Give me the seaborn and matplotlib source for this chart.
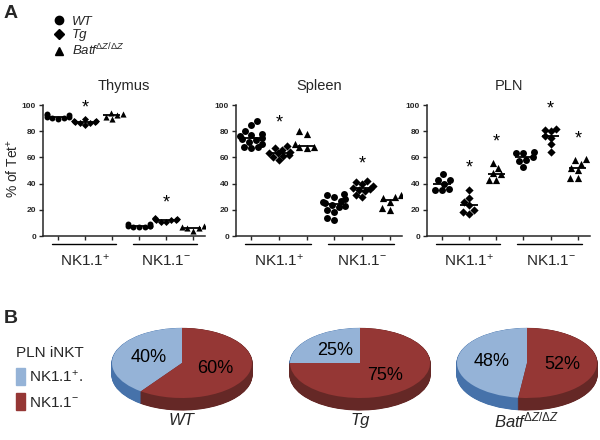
import warnings
warnings.filterwarnings("ignore")
import numpy as np
import pandas as pd
import matplotlib
matplotlib.use("Agg")
import matplotlib.pyplot as plt
import matplotlib.transforms as mtransforms
from matplotlib.lines import Line2D
from matplotlib.patches import Patch
import seaborn as sns

sns.set_style("ticks")
plt.rcParams["font.family"] = ["Liberation Sans", "DejaVu Sans"]
plt.rcParams["mathtext.fontset"] = "custom"
plt.rcParams["mathtext.rm"] = "Liberation Sans"
plt.rcParams["mathtext.it"] = "Liberation Sans:italic"
plt.rcParams["mathtext.bf"] = "Liberation Sans:bold"

# ---------------- data ----------------
genotypes = ["WT", "Tg", "Batf"]
categories = ["WT+", "Tg+", "Batf+", "WT-", "Tg-", "Batf-"]
group_labels = ["NK1.1$^{+}$", "NK1.1$^{-}$"]
tissues = ["Thymus", "Spleen", "PLN"]

thy_wt_pos = [90, 91, 92, 91, 90, 92, 93, 89]
thy_tg_pos = [85, 86, 87, 88, 87, 89, 86, 88]
thy_ko_pos = [89, 91, 93, 94, 92]
thy_wt_neg = [7, 8, 9, 8, 7, 9, 8, 7]
thy_tg_neg = [11, 12, 13, 12, 11, 13, 14, 12]
thy_ko_neg = [4, 6, 7, 8, 6]

spl_wt_pos = [88, 85, 80, 78, 77, 76, 75, 74, 73, 72, 70, 68, 67, 68]
spl_tg_pos = [69, 67, 66, 64, 63, 62, 61, 60, 58, 63]
spl_ko_pos = [80, 78, 70, 68, 68, 67]
spl_wt_neg = [32, 31, 30, 28, 27, 25, 24, 22, 20, 18, 14, 12, 26, 23]
spl_tg_neg = [42, 41, 40, 38, 37, 36, 35, 34, 31, 30]
spl_ko_neg = [31, 30, 29, 26, 21, 20]

pln_wt_pos = [47, 43, 43, 40, 36, 35, 35]
pln_tg_pos = [35, 29, 26, 24, 20, 18, 17]
pln_ko_pos = [56, 52, 48, 47, 43, 43]
pln_wt_neg = [64, 63, 63, 60, 58, 57, 53]
pln_tg_neg = [82, 81, 80, 76, 75, 70, 64]
pln_ko_neg = [59, 58, 55, 52, 50, 44, 44]

panel_values = {
    "Thymus": [thy_wt_pos, thy_tg_pos, thy_ko_pos, thy_wt_neg, thy_tg_neg, thy_ko_neg],
    "Spleen": [spl_wt_pos, spl_tg_pos, spl_ko_pos, spl_wt_neg, spl_tg_neg, spl_ko_neg],
    "PLN": [pln_wt_pos, pln_tg_pos, pln_ko_pos, pln_wt_neg, pln_tg_neg, pln_ko_neg],
}

# significance asterisks: (category, height)
stars = {
    "Thymus": [("Tg+", 98), ("Tg-", 25)],
    "Spleen": [("Tg+", 86), ("Tg-", 55)],
    "PLN": [("Tg+", 52), ("Batf+", 72), ("Tg-", 97), ("Batf-", 74)],
}

pie_names = ["WT", "Tg", "Batf$^{\\Delta Z/\\Delta Z}$"]
pie_labels = ["NK1.1$^{+}$.", "NK1.1$^{-}$"]
pie_pos = [40, 25, 48]
pie_neg = [60, 75, 52]

# ---------------- figure ----------------
W, H = 600, 440
fig = plt.figure(figsize=(6, 4.4), dpi=100)

def fx(px):
    return px / W

def fy(py):
    return 1 - py / H

markers = {"WT": ("o", 5.0), "Tg": ("D", 4.2), "Batf": ("^", 5.2)}
axes_px = {"Thymus": (43, 205), "Spleen": (236, 402), "PLN": (427, 590)}
top_px, bot_px = 105, 236

for tissue in tissues:
    l, r = axes_px[tissue]
    ax = fig.add_axes([fx(l), fy(bot_px), (r - l) / W, (bot_px - top_px) / H])
    rows = []
    for cat, vals in zip(categories, panel_values[tissue]):
        g = cat[:-1]
        for v in vals:
            rows.append({"cat": cat, "geno": g, "val": v})
    df = pd.DataFrame(rows)
    shrink = 0.85 if tissue == "Thymus" else 1.0
    for g in genotypes:
        m, s = markers[g]
        sns.swarmplot(data=df[df.geno == g], x="cat", y="val", order=categories,
                      marker=m, size=s * shrink, color="black", linewidth=0, ax=ax)
    for i, vals in enumerate(panel_values[tissue]):
        ax.hlines(np.median(vals), i - 0.32, i + 0.32, color="black", lw=1.3, zorder=5)
    for cat, h in stars[tissue]:
        ax.text(categories.index(cat), h, "*", ha="center", va="center",
                fontsize=13, color="black")
    ax.set_xlim(-0.55, 5.45)
    ax.set_ylim(0, 100)
    ax.set_yticks([0, 20, 40, 60, 80, 100])
    ax.set_xticks(range(6))
    ax.set_xticklabels([])
    ax.set_xlabel("")
    ax.set_ylabel("")
    for lab in ax.get_yticklabels():
        lab.set_fontweight("bold")
        lab.set_fontsize(6)
        lab.set_family(["Liberation Sans Narrow", "Liberation Sans"])
    ax.tick_params(axis="both", length=3, width=1, pad=2)
    sns.despine(ax=ax)
    for sp in ["left", "bottom"]:
        ax.spines[sp].set_linewidth(1.1)
    ax.set_title(tissue, fontsize=10.5, pad=11)
    trans = mtransforms.blended_transform_factory(ax.transData, ax.transAxes)
    for k, (a, b) in enumerate([(-0.22, 2.15), (2.78, 5.15)]):
        ax.plot([a, b], [-0.058, -0.058], color="black", lw=1.0,
                transform=trans, clip_on=False)
        ax.text(1 + 3 * k, -0.19, group_labels[k], transform=trans,
                ha="center", va="center", fontsize=11)
    if tissue == "Thymus":
        fig.text(fx(13), fy(168), "% of Tet$^{+}$", fontsize=10, rotation=90,
                 ha="center", va="center")

# panel letters
fig.text(fx(4), fy(14), "A", fontsize=14, fontweight="bold", va="center", ha="left")
fig.text(fx(4), fy(318), "B", fontsize=14, fontweight="bold", va="center", ha="left")

# legend A
handles_a = [Line2D([], [], marker="o", ls="", color="black", markersize=6),
             Line2D([], [], marker="D", ls="", color="black", markersize=5.5),
             Line2D([], [], marker="^", ls="", color="black", markersize=6)]
fig.legend(handles_a, ["WT", "Tg", "Batf$^{\\Delta Z/\\Delta Z}$"],
           loc="upper left", bbox_to_anchor=(fx(46), fy(9)), frameon=False,
           prop={"style": "italic", "size": 9.5}, labelspacing=0.08,
           handlelength=1.0, handletextpad=0.45, borderpad=0)

# ---------------- pies ----------------
top_cols = ["#95B3D7", "#953735"]
side_cols = ["#4672AA", "#652826"]
centers = [182, 360, 527]
rx, ry, depth_px = 70, 35, 12
depth = depth_px / ry
for name, p, n, cx in zip(pie_names, pie_pos, pie_neg, centers):
    wpx = 2.1 * rx
    hpx = (1.05 + 1 + depth + 0.05) * ry
    top = 363 - 1.05 * ry
    ax = fig.add_axes([fx(cx - wpx / 2), fy(top + hpx), wpx / W, hpx / H])
    for d in np.linspace(depth, 0, 30)[:-1]:
        wedges, _ = ax.pie([p, n], colors=side_cols, startangle=90, counterclock=True,
                           center=(0, -d), wedgeprops={"linewidth": 0.8})
        for w in wedges:
            w.set_edgecolor(w.get_facecolor())
    wedges, _, _ = ax.pie([p, n], colors=top_cols, startangle=90, counterclock=True,
                          autopct=lambda v: f"{v:.0f}%", pctdistance=0.5,
                          textprops={"fontsize": 13, "color": "black"},
                          wedgeprops={"linewidth": 0})
    ax.set_aspect("auto")
    ax.set_xlim(-1.05, 1.05)
    ax.set_ylim(-1 - depth - 0.05, 1.05)
    ax.text(0.5, -0.1, name, transform=ax.transAxes, ha="center", va="center",
            fontsize=12, style="italic")

# legend B
fig.legend([Patch(color=top_cols[0]), Patch(color=top_cols[1])], pie_labels,
           title="PLN iNKT", loc="upper left", bbox_to_anchor=(fx(8), fy(338)),
           frameon=False, fontsize=11, title_fontsize=11, alignment="left",
           handlelength=0.6, handleheight=1.3, handletextpad=0.3,
           labelspacing=0.55, borderpad=0)

fig.savefig("out.png", dpi=100)
